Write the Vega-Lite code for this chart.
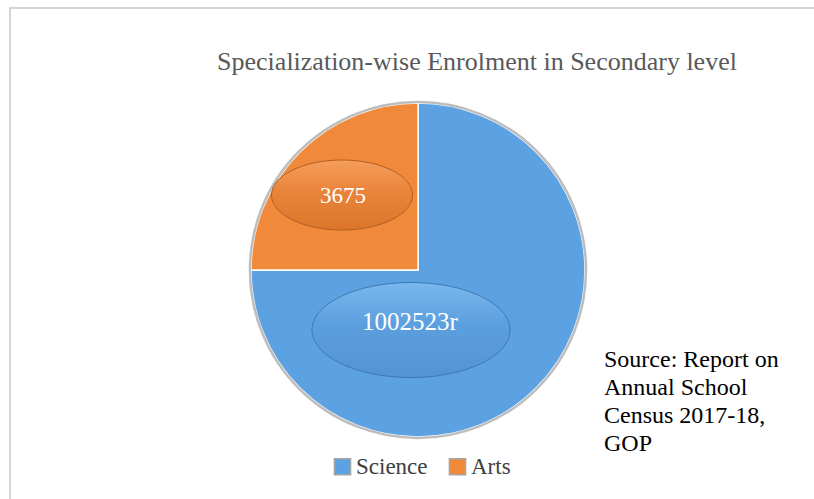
{
  "$schema": "https://vega.github.io/schema/vega-lite/v6.json",
  "width": 816,
  "height": 524,
  "autosize": {"type": "none"},
  "padding": {"left": 10, "top": 8, "right": 0, "bottom": 0},
  "background": "#ffffff",
  "view": {"stroke": "#d4d4d4", "strokeWidth": 2},
  "config": {
    "view": {"stroke": "#d4d4d4", "strokeWidth": 2},
    "font": "Liberation Serif"
  },
  "title": {
    "text": "Specialization-wise Enrolment in Secondary level",
    "font": "Liberation Serif",
    "fontSize": 26,
    "fontWeight": "normal",
    "color": "#595959",
    "anchor": "middle",
    "dx": 59,
    "offset": -67
  },
  "datasets": {
    "shares": [
      {"category": "Science", "label": "1002523r", "share": 75},
      {"category": "Arts", "label": "3675", "share": 25}
    ],
    "note": [
      {"note": "Source: Report on\nAnnual School\nCensus 2017-18,\nGOP"}
    ]
  },
  "data": {"name": "shares"},
  "layer": [
    {
      "mark": {"type": "arc", "outerRadius": 167, "stroke": "#ffffff", "strokeWidth": 1.5},
      "encoding": {
        "theta": {"field": "share", "type": "quantitative", "stack": true},
        "color": {
          "field": "category",
          "type": "nominal",
          "scale": {"domain": ["Science", "Arts"], "range": ["#5CA1E2", "#F08A3A"]},
          "legend": {
            "orient": "none",
            "legendX": 321,
            "legendY": 447,
            "direction": "horizontal",
            "title": null,
            "padding": 0,
            "symbolType": "square",
            "symbolSize": 260,
            "symbolStrokeColor": "#a6a6a6",
            "symbolStrokeWidth": 1.5,
            "symbolOpacity": 1,
            "labelFont": "Liberation Serif",
            "labelFontSize": 23,
            "labelColor": "#404040",
            "labelOffset": 2,
            "columnPadding": 18
          }
        },
        "order": {"field": "category", "sort": "descending"}
      }
    },
    {
      "transform": [{"filter": "datum.category === 'Science'"}],
      "mark": {"type": "arc", "outerRadius": 168, "fill": "transparent", "stroke": "#bdbdbd", "strokeWidth": 2.5},
      "encoding": {}
    },
    {
      "transform": [{"filter": "datum.category === 'Arts'"}],
      "mark": {
        "type": "point",
        "filled": true,
        "size": 4,
        "shape": "M-146.5,-75 C-146.5,-94.33 -114.94,-110 -76,-110 C-37.06,-110 -5.5,-94.33 -5.5,-75 C-5.5,-55.67 -37.06,-40 -76,-40 C-114.94,-40 -146.5,-55.67 -146.5,-75 Z",
        "fill": {"gradient": "linear", "x1": 0, "y1": 0, "x2": 0, "y2": 1, "stops": [{"offset": 0, "color": "#F59E5C"}, {"offset": 0.45, "color": "#E9843A"}, {"offset": 1, "color": "#DB752C"}]},
        "stroke": "#B25E22",
        "strokeWidth": 1,
        "opacity": 1
      },
      "encoding": {}
    },
    {
      "transform": [{"filter": "datum.category === 'Science'"}],
      "mark": {
        "type": "point",
        "filled": true,
        "size": 4,
        "shape": "M-106,60 C-106,33.77 -61.68,12.5 -7,12.5 C47.68,12.5 92,33.77 92,60 C92,86.23 47.68,107.5 -7,107.5 C-61.68,107.5 -106,86.23 -106,60 Z",
        "fill": {"gradient": "linear", "x1": 0, "y1": 0, "x2": 0, "y2": 1, "stops": [{"offset": 0, "color": "#79B8EE"}, {"offset": 0.45, "color": "#5C9FDE"}, {"offset": 1, "color": "#5293D3"}]},
        "stroke": "#3F78B2",
        "strokeWidth": 1,
        "opacity": 1
      },
      "encoding": {}
    },
    {
      "transform": [{"filter": "datum.category === 'Arts'"}],
      "mark": {"type": "text", "dx": -75, "dy": -74, "fontSize": 23, "color": "#ffffff", "font": "Liberation Serif", "align": "center", "baseline": "middle"},
      "encoding": {"text": {"field": "label", "type": "nominal"}}
    },
    {
      "transform": [{"filter": "datum.category === 'Science'"}],
      "mark": {"type": "text", "dx": -8, "dy": 52, "fontSize": 25, "color": "#ffffff", "font": "Liberation Serif", "align": "center", "baseline": "middle"},
      "encoding": {"text": {"field": "label", "type": "nominal"}}
    },
    {
      "data": {"name": "note"},
      "mark": {"type": "text", "dx": 186, "dy": 78, "fontSize": 24, "lineHeight": 28, "lineBreak": "\n", "color": "#000000", "font": "Liberation Serif", "align": "left", "baseline": "top"},
      "encoding": {"text": {"field": "note", "type": "nominal"}}
    }
  ]
}
